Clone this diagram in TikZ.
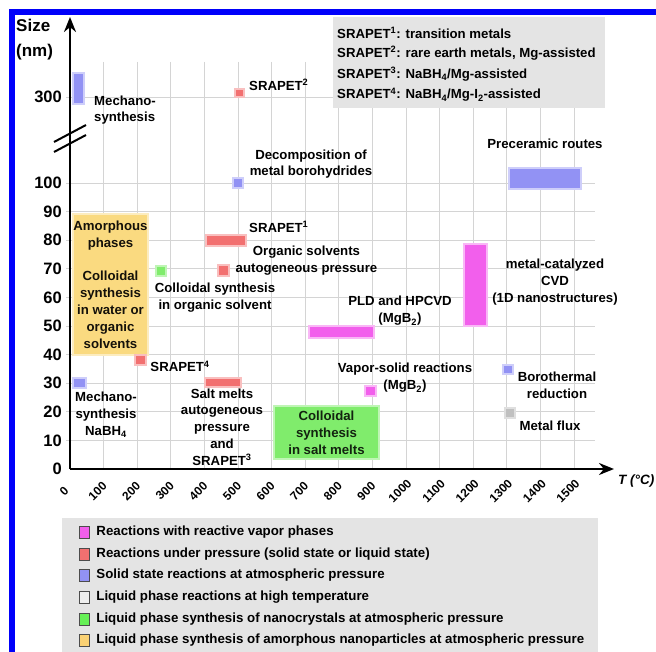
\documentclass[tikz,border=0pt]{standalone}
\usepackage{fontspec}
\setmainfont{Liberation Sans}
\usetikzlibrary{arrows.meta,positioning}
\definecolor{vapour}{RGB}{242,95,236}
\definecolor{press}{RGB}{242,112,112}
\definecolor{solid}{RGB}{146,146,244}
\definecolor{flux}{RGB}{192,192,192}
\definecolor{nano}{RGB}{128,236,108}
\definecolor{amorph}{RGB}{250,218,128}
\definecolor{gridgray}{RGB}{212,212,212}
\definecolor{keygray}{RGB}{228,228,228}
\definecolor{frameblue}{RGB}{0,0,250}
\tikzset{
	region/.style={
		rectangle,
		inner sep=0pt,
		line width=2.5pt,
		text centered,
	},
	vapourbox/.style={region, fill=vapour, draw=vapour!45},
	pressbox/.style={region, fill=press, draw=press!45},
	solidbox/.style={region, fill=solid, draw=solid!45},
	fluxbox/.style={region, fill=flux, draw=flux!50},
	nanobox/.style={region, fill=nano, draw=nano!50},
	amorphbox/.style={region, fill=amorph, draw=amorph!50},
	lbl/.style={
		align=center,
		inner sep=0pt,
		font=\bfseries\fontsize{13.2}{16.8}\selectfont,
	},
	tick/.style={
		inner sep=0pt,
		font=\bfseries\fontsize{16.5}{18}\selectfont,
	},
	swatch/.style={
		rectangle,
		draw=black!70, thin,
		minimum width=10pt, minimum height=12pt,
		inner sep=0pt,
	},
	keytext/.style={
		anchor=west,
		inner sep=0pt,
		font=\bfseries\fontsize{13.3}{15}\selectfont,
	},
}

\begin{document}
\begin{tikzpicture}[x=1pt, y=-1pt, node distance=4pt]
\useasboundingbox (0,0) rectangle (656,652);

% grid
\foreach \k in {1,...,15}
	\draw[gridgray, line width=0.8pt] ({70+33.6*\k},62) -- ({70+33.6*\k},469);
\foreach \v in {1,...,10}
	\draw[gridgray, line width=0.8pt] (66,{469-2.86*\v*10}) -- (595,{469-2.86*\v*10});
\draw[gridgray, line width=0.8pt] (66,97) -- (595,97);

% regions
\node	(mechI)		[solidbox, minimum width=11pt, minimum height=31pt]	at (78.5,88.5)	{};
\node	(srapetII)	[pressbox, minimum width=9pt, minimum height=8pt]	at (239.5,93)	{};
\node	(decomp)	[solidbox, minimum width=10pt, minimum height=10pt]	at (238,183)	{};
\node	(preceram)	[solidbox, minimum width=72pt, minimum height=21pt]	at (545,178.5)	{};
\node	(amorphous)	[amorphbox, minimum width=75pt, minimum height=141pt, lbl, text=black!80!amorph!40!black]	at (110.5,284.5)
	{Amorphous\\phases\\[16.8pt]Colloidal\\synthesis\\in water or\\organic\\solvents};
\node	(colorg)	[nanobox, minimum width=10pt, minimum height=10pt]	at (161,271)	{};
\node	(srapetI)	[pressbox, minimum width=40pt, minimum height=11pt]	at (226,240.5)	{};
\node	(orgsolv)	[pressbox, minimum width=11pt, minimum height=11pt]	at (223.5,270.5)	{};
\node	(pld)		[vapourbox, minimum width=65pt, minimum height=12pt]	at (341.5,332)	{};
\node	(cvd)		[vapourbox, minimum width=23pt, minimum height=82pt]	at (475.5,285)	{};
\node	(srapetIV)	[pressbox, minimum width=11pt, minimum height=10pt]	at (140.5,360)	{};
\node	(mechII)	[solidbox, minimum width=13pt, minimum height=10pt]	at (79.5,383)	{};
\node	(saltmelt)	[pressbox, minimum width=36pt, minimum height=9pt]	at (223,382.5)	{};
\node	(saltcoll)	[nanobox, minimum width=105pt, minimum height=53pt, lbl, text=black!85!nano]	at (326.5,432.5)
	{Colloidal\\synthesis\\in salt melts};
\node	(vapsol)	[vapourbox, minimum width=11pt, minimum height=10pt]	at (370.5,391)	{};
\node	(boro)		[solidbox, minimum width=10pt, minimum height=9pt]	at (508,369.5)	{};
\node	(metflux)	[fluxbox, minimum width=10pt, minimum height=10pt]	at (510,413)	{};

% labels
\node	(mechIlbl)	[lbl, align=left, anchor=west]	at (94,110)	{Mechano-\\synthesis};
\node	(srapetIIlbl)	[lbl, anchor=west]	at (249,85)	{SRAPET\textsuperscript{2}};
\node	(decomplbl)	[lbl]	at (311,164)	{Decomposition of\\metal borohydrides};
\node	(preceramlbl)	[lbl, above=18pt of preceram]	{Preceramic routes};
\node	(srapetIlbl)	[lbl, anchor=west]	at (249,227)	{SRAPET\textsuperscript{1}};
\node	(orgsolvlbl)	[lbl]	at (306.5,260.5)	{Organic solvents\\autogeneous pressure};
\node	(colorglbl)	[lbl]	at (215,298)	{Colloidal synthesis\\in organic solvent};
\node	(pldlbl)	[lbl]	at (400,311)	{PLD and HPCVD\\(MgB\textsubscript{2})};
\node	(cvdlbl)	[lbl]	at (555,282)	{metal-catalyzed\\CVD\\(1D nanostructures)};
\node	(srapetIVlbl)	[lbl, right=3pt of srapetIV.south east, anchor=west]	{SRAPET\textsuperscript{4}};
\node	(mechIIlbl)	[lbl]	at (106,415)	{Mechano-\\synthesis\\NaBH\textsubscript{4}};
\node	(saltmeltlbl)	[lbl]	at (222,427)	{Salt melts\\autogeneous\\pressure\\and\\SRAPET\textsuperscript{3}};
\node	(vapsollbl)	[lbl]	at (405,378)	{Vapor-solid reactions\\(MgB\textsubscript{2})};
\node	(borolbl)	[lbl]	at (557,385)	{Borothermal\\reduction};
\node	(metfluxlbl)	[lbl]	at (550,426)	{Metal flux};

% axes
\coordinate	(origin)	at (70,469);
\coordinate	(ytip)		at (70,17);
\coordinate	(xtip)		at (614,469);
\path[line width=2.4pt, -{Stealth[length=15pt, width=12pt]}] (origin) edge (ytip);
\path[line width=2.4pt, -{Stealth[length=15pt, width=12pt]}] (origin) edge (xtip);
\coordinate	(brkA)	at (54,142);
\coordinate	(brkB)	at (86,125);
\coordinate	(brkC)	at (54,152);
\coordinate	(brkD)	at (86,135);
\path[line width=2pt] (brkA) edge (brkB);
\path[line width=2pt] (brkC) edge (brkD);

\node	(ylabel)	[anchor=north west, align=left, inner sep=0pt, font=\bfseries\fontsize{17}{25}\selectfont]	at (16,19)	{Size\\(nm)};
\node	(xlabel)	[anchor=west, inner sep=0pt, font=\bfseries\itshape\fontsize{13.5}{16}\selectfont]	at (618,481)	{T (°C)};

% tick labels
\node	(ythree)	[tick, anchor=east]	at (62,97)	{300};
\foreach \v in {0,...,10}
	\node	[tick, anchor=east]	at (62,{469-2.86*\v*10})	{\the\numexpr\v*10\relax};
\foreach \k in {0,...,15}
	\node	[inner sep=0pt, rotate=45, font=\bfseries\fontsize{12}{14}\selectfont]	at ({64+33.6*\k},491)	{\the\numexpr\k*100\relax};

% key of SRAPET
\node	(srapetkey)	[fill=keygray, anchor=north west, minimum width=272pt, minimum height=91pt]	at (333,17)	{};
\node	(keyI)	[keytext, font=\bfseries\fontsize{13.2}{15}\selectfont]	at (337,33)	{SRAPET\textsuperscript{1}: transition metals};
\node	(keyII)	[keytext, font=\bfseries\fontsize{13.2}{15}\selectfont]	at (337,53)	{SRAPET\textsuperscript{2}: rare earth metals, Mg-assisted};
\node	(keyIII)	[keytext, font=\bfseries\fontsize{13.2}{15}\selectfont]	at (337,74)	{SRAPET\textsuperscript{3}: NaBH\textsubscript{4}/Mg-assisted};
\node	(keyIV)	[keytext, font=\bfseries\fontsize{13.2}{15}\selectfont]	at (337,95)	{SRAPET\textsuperscript{4}: NaBH\textsubscript{4}/Mg-I\textsubscript{2}-assisted};

% key of colours
\node	(colourkey)	[fill=keygray, anchor=north west, minimum width=536pt, minimum height=140pt]	at (62,518)	{};
\node	(swvap)		[swatch, fill=vapour]	at (84,532)	{};
\node	(swpress)	[swatch, fill=press, below=9.3pt of swvap]	{};
\node	(swsolid)	[swatch, fill=solid, below=9.3pt of swpress]	{};
\node	(swflux)	[swatch, fill=keygray!60!white, below=9.3pt of swsolid]	{};
\node	(swnano)	[swatch, fill=nano!80!green, below=9.3pt of swflux]	{};
\node	(swamorph)	[swatch, fill=amorph!90!orange, below=9.3pt of swnano]	{};
\node	(txvap)		[keytext, right=7pt of swvap]		{Reactions with reactive vapor phases};
\node	(txpress)	[keytext, right=7pt of swpress]		{Reactions under pressure (solid state or liquid state)};
\node	(txsolid)	[keytext, right=7pt of swsolid]		{Solid state reactions at atmospheric pressure};
\node	(txflux)	[keytext, right=7pt of swflux]		{Liquid phase reactions at high temperature};
\node	(txnano)	[keytext, right=7pt of swnano]		{Liquid phase synthesis of nanocrystals at atmospheric pressure};
\node	(txamorph)	[keytext, right=7pt of swamorph]	{Liquid phase synthesis of amorphous nanoparticles at atmospheric pressure};

% frame
\fill[frameblue] (9,9) rectangle (656,15);
\fill[frameblue] (9,9) rectangle (15,652);
\end{tikzpicture}
\end{document}
